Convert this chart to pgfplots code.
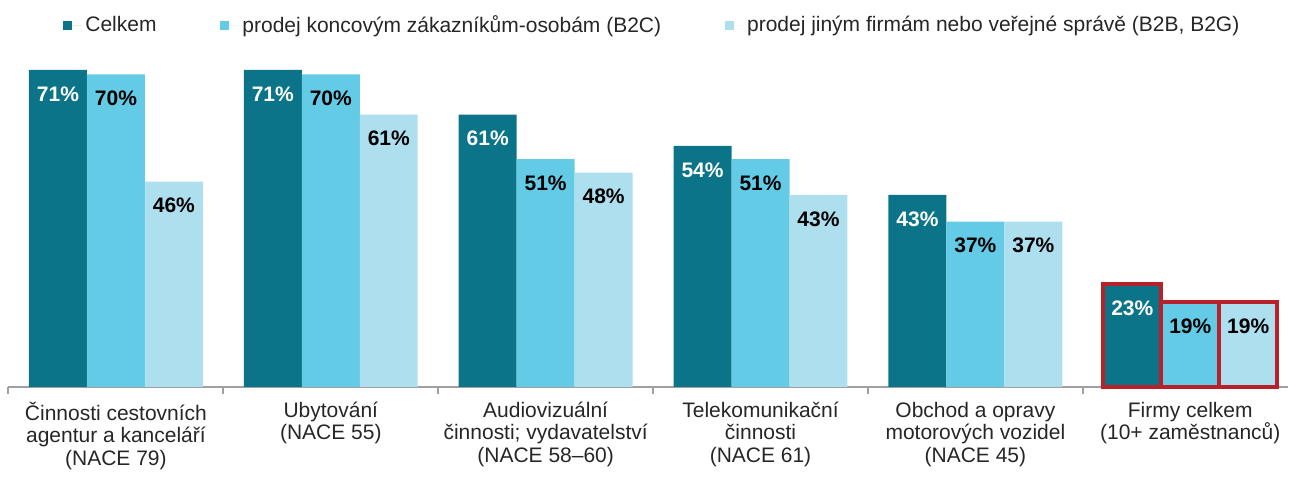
\documentclass[border=0pt]{standalone}
\usepackage{pgfplots}
\pgfplotsset{compat=1.18}
\usepackage{fontspec}
\setmainfont{Liberation Sans}
\definecolor{c1}{HTML}{0B7489}
\definecolor{c2}{HTML}{63CBE5}
\definecolor{c3}{HTML}{AEDFEE}
\definecolor{cred}{HTML}{B8202A}
\definecolor{txt}{HTML}{262626}
\definecolor{axg}{HTML}{A0A0A0}
\begin{document}
\begin{tikzpicture}
\begin{axis}[
  name=ax,
  /pgf/number format/assume math mode=true,
  x=107.5pt, y=2.2324pt,
  xmin=-0.5, xmax=5.455, ymin=0, ymax=86.68,
  clip=false,
  axis x line=bottom, axis y line=none,
  axis line style={-, axg, line width=1pt},
  ytick=\empty,
  xtick={0,...,5},
  major tick length=0pt,
  xticklabels={{Činnosti cestovních\\agentur a kanceláří\\(NACE 79)},
               {Ubytování\\(NACE 55)},
               {Audiovizuální\\činnosti; vydavatelství\\(NACE 58–60)},
               {Telekomunikační\\činnosti\\(NACE 61)},
               {Obchod a opravy\\motorových vozidel\\(NACE 45)},
               {Firmy celkem\\(10+ zaměstnanců)}},
  xticklabel style={align=center, font=\fontsize{10.5}{11.3}\selectfont, text=txt, yshift=-4pt},
  extra x ticks={-0.5,0.5,1.5,2.5,3.5,4.5},
  extra x tick labels={},
  extra x tick style={major tick length=3.5pt, tick align=outside, tick style={axg, line width=1pt}},
  ybar, bar width=29pt,
  lbl/.style={nodes near coords={\pgfmathprintnumber{\pgfplotspointmeta}\%},
     every node near coord/.append style={font=\bfseries\fontsize{10.5}{12}\selectfont, anchor=center, yshift=-12pt, text=#1}},
  legend columns=3,
  legend style={at={(0.504,0.935)}, anchor=center, draw=none, fill=none,
     font=\fontsize{10.5}{12}\selectfont, text=txt,
     /tikz/every even column/.append style={column sep=30pt}},
  legend image code/.code={\fill[#1] (0pt,-2.25pt) rectangle (4.5pt,2.25pt); \path (4.5pt,0pt) -- (9pt,0pt);},
]
\addlegendimage{fill=c1, draw=none}
\addlegendentry{Celkem}
\addlegendimage{fill=c2, draw=none}
\addlegendentry{prodej koncovým zákazníkům-osobám (B2C)}
\addlegendimage{fill=c3, draw=none}
\addlegendentry{prodej jiným firmám nebo veřejné správě (B2B, B2G)}

\addplot[fill=c1, draw=none, bar shift=-29pt, lbl=white, forget plot]
  coordinates {(0,71) (1,71) (2,61) (3,54) (4,43) (5,23)};
\addplot[fill=c2, draw=none, bar shift=0pt, lbl=black, forget plot]
  coordinates {(0,70) (1,70) (2,51) (3,51) (4,37) (5,19)};
\addplot[fill=c3, draw=none, bar shift=29pt, lbl=black, forget plot]
  coordinates {(0,46) (1,61) (2,48) (3,43) (4,37) (5,19)};

\addplot[fill=none, draw=cred, line width=2pt, bar shift=-29pt, forget plot] coordinates {(5,23)};
\addplot[fill=none, draw=cred, line width=2pt, bar shift=0pt, forget plot] coordinates {(5,19)};
\addplot[fill=none, draw=cred, line width=2pt, bar shift=29pt, forget plot] coordinates {(5,19)};
\end{axis}
\path (ax.south west) ++(-4.25pt,-42.5pt) rectangle ++(644.5pt,236pt);
\end{tikzpicture}
\end{document}
